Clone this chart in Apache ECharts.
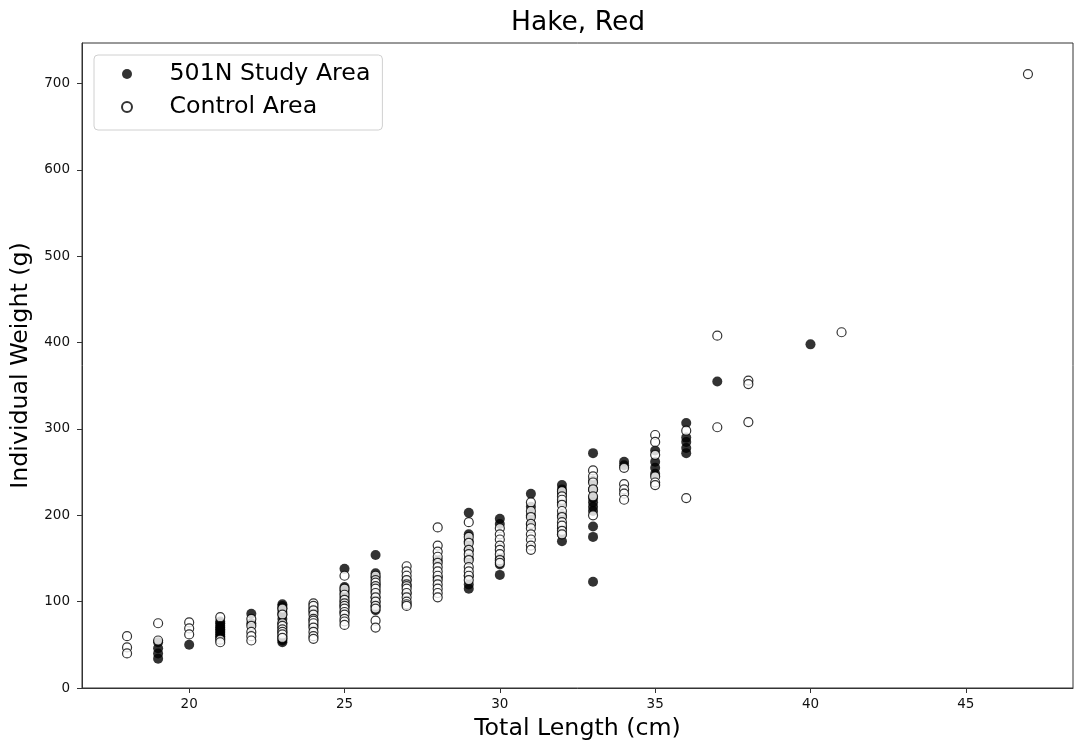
<!DOCTYPE html>
<html>
<head>
<meta charset="utf-8">
<script src="https://cdn.jsdelivr.net/npm/echarts@6/dist/echarts.min.js"></script>
<style>
html,body{margin:0;padding:0;background:#fff;}
#chart{width:1077px;height:745px;}
</style>
</head>
<body>
<div id="chart"></div>
<script>
// Study area (501N) points: total length (cm) and weight (g)
const studyLength = [
  19,19,19,19,
  20,
  21,21,21,21,21,21,21,21,21,21,
  22,22,
  23,23,23,23,23,23,23,23,23,23,23,23,23,
  24,24,24,
  25,25,25,25,25,25,25,25,
  26,26,26,26,26,26,26,26,26,
  27,27,
  28,28,
  29,29,29,29,29,29,29,29,
  30,30,30,30,30,
  31,31,31,31,
  32,32,32,32,32,32,32,32,
  33,33,33,33,33,33,33,33,33,33,
  34,34,
  35,35,35,35,
  36,36,36,36,36,
  37,
  40
];
const studyWeight = [
  53,46,40,34,
  50,
  77,75,72,70,68,66,64,62,60,58,
  86,75,
  97,95,92,88,85,80,75,70,65,60,57,55,53,
  92,88,72,
  138,117,113,110,105,100,95,88,
  154,133,128,120,112,105,100,95,90,
  110,125,
  148,128,
  203,178,170,160,150,130,120,115,
  196,190,150,143,131,
  225,210,200,190,
  235,230,225,215,200,185,178,170,
  272,240,230,220,215,210,205,187,175,123,
  262,258,
  275,262,255,248,
  307,290,285,278,272,
  355,
  398
];
// Control area points
const controlLength = [
  18,18,18,
  19,19,
  20,20,20,
  21,21,21,
  22,22,22,22,22,
  23,23,23,23,23,23,23,23,
  24,24,24,24,24,24,24,24,24,24,24,
  25,25,25,25,25,25,25,25,25,25,25,25,
  26,26,26,26,26,26,26,26,26,26,26,26,
  27,27,27,27,27,27,27,27,27,27,27,27,
  28,28,28,28,28,28,28,28,28,28,28,28,28,
  29,29,29,29,29,29,29,29,29,29,
  30,30,30,30,30,30,30,30,
  31,31,31,31,31,31,31,31,31,
  32,32,32,32,32,32,32,32,32,32,
  33,33,33,33,33,33,
  34,34,34,34,34,
  35,35,35,35,35,35,
  36,36,
  37,37,
  38,38,38,
  41,
  47
];
const controlWeight = [
  60,47,40,
  75,55,
  76,69,62,
  82,56,53,
  80,72,65,60,55,
  92,85,75,72,68,65,62,58,
  98,95,90,85,80,78,75,70,65,60,57,
  130,115,108,102,98,95,92,88,85,80,77,73,
  130,125,122,118,115,110,105,100,95,92,78,70,
  141,135,130,125,120,118,115,110,105,100,97,95,
  186,165,158,152,145,140,135,130,125,120,115,110,105,
  192,175,168,160,155,148,140,135,130,125,
  185,178,172,165,160,155,148,145,
  215,205,198,190,185,178,172,165,160,
  228,222,218,212,205,198,192,188,182,178,
  252,245,238,230,222,200,
  255,236,230,225,218,
  293,285,270,245,238,235,
  298,220,
  408,302,
  356,352,308,
  412,
  711
];
const xTicks = [20, 25, 30, 35, 40, 45];
const yTicks = [0, 100, 200, 300, 400, 500, 600, 700];

const studyData = studyLength.map((x, i) => [x, studyWeight[i]]);
const controlData = controlLength.map((x, i) => [x, controlWeight[i]]);

const FONT = 'DejaVu Sans';
const chart = echarts.init(document.getElementById('chart'), null, {renderer: 'canvas'});
chart.setOption({
  animation: false,
  backgroundColor: '#fff',
  title: {
    text: 'Hake, Red',
    left: 511,
    top: 10,
    padding: 0,
    textStyle: {fontFamily: FONT, fontSize: 26.5, fontWeight: 'normal', color: '#000'}
  },
  legend: {
    orient: 'vertical',
    left: 94,
    top: 55,
    padding: [6, 12, 10, 27],
    itemGap: 7,
    itemWidth: 43,
    itemHeight: 10,
    borderColor: '#d0d0d0',
    borderWidth: 1,
    borderRadius: 4,
    backgroundColor: 'rgba(255,255,255,0.8)',
    formatter: name => '{t|' + name + '}',
    textStyle: {
      fontFamily: FONT, fontSize: 23.7, color: '#000', lineHeight: 26,
      rich: {t: {fontFamily: FONT, fontSize: 23.7, color: '#000', lineHeight: 26, padding: [0, 0, 0, 16]}}
    },
    data: ['501N Study Area', 'Control Area']
  },
  grid: {
    left: 82, right: 4, top: 43, bottom: 57,
    outerBoundsMode: 'none',
    containLabel: false,
    show: true, borderColor: '#333', borderWidth: 1, backgroundColor: 'transparent'
  },
  xAxis: {
    type: 'value',
    min: 16.55,
    max: 48.45,
    name: 'Total Length (cm)',
    nameLocation: 'middle',
    nameGap: 29,
    nameTextStyle: {fontFamily: FONT, fontSize: 23.7, color: '#000', verticalAlign: 'top'},
    axisLine: {show: true, onZero: false, lineStyle: {color: '#333', width: 1}},
    axisTick: {show: true, length: 5, customValues: xTicks, lineStyle: {color: '#333'}},
    axisLabel: {customValues: xTicks, fontFamily: FONT, fontSize: 13.5, color: '#111', margin: 9},
    splitLine: {show: false}
  },
  yAxis: {
    type: 'value',
    min: 0,
    max: 747,
    name: 'Individual Weight (g)',
    nameLocation: 'middle',
    nameGap: 56,
    nameTextStyle: {fontFamily: FONT, fontSize: 23.7, color: '#000', verticalAlign: 'middle'},
    axisLine: {show: true, onZero: false, lineStyle: {color: '#333', width: 1}},
    axisTick: {show: true, length: 5, customValues: yTicks, lineStyle: {color: '#333'}},
    axisLabel: {customValues: yTicks, fontFamily: FONT, fontSize: 13.5, color: '#111', margin: 12},
    splitLine: {show: false}
  },
  series: [
    {
      name: '501N Study Area',
      type: 'scatter',
      symbol: 'circle',
      symbolSize: 10,
      data: studyData,
      itemStyle: {color: '#000', opacity: 0.8, borderColor: '#000', borderWidth: 0},
      emphasis: {disabled: true}
    },
    {
      name: 'Control Area',
      type: 'scatter',
      symbol: 'circle',
      symbolSize: 9,
      data: controlData,
      itemStyle: {color: '#fff', opacity: 0.8, borderColor: '#000', borderWidth: 1.2},
      emphasis: {disabled: true}
    }
  ]
});
</script>
</body>
</html>
